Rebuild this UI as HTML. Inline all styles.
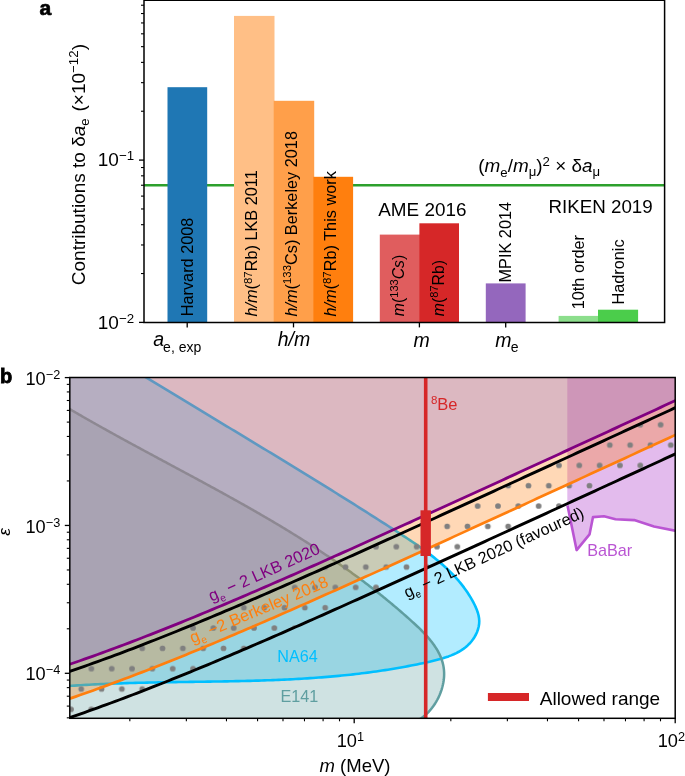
<!DOCTYPE html>
<html><head><meta charset="utf-8"><style>
html,body{margin:0;padding:0;background:#fff;}
svg{display:block;will-change:transform;}
text{font-family:"Liberation Sans",sans-serif;}
</style></head><body>
<svg width="685" height="776" viewBox="0 0 685 776">
<rect width="685" height="776" fill="#fff"/>
<line x1="144.0" x2="664.6" y1="185.2" y2="185.2" stroke="#2ca02c" stroke-width="2.5"/>
<rect x="167.5" y="87.2" width="39.7" height="235.2" fill="#1f77b4"/>
<rect x="234" y="15.9" width="40.5" height="306.5" fill="#ffbf86"/>
<rect x="273.7" y="100.8" width="40.5" height="221.6" fill="#ff9f4a"/>
<rect x="313.4" y="176.8" width="39.7" height="145.6" fill="#ff7f0e"/>
<rect x="379.8" y="234.6" width="40.4" height="87.8" fill="#e05d5e"/>
<rect x="419.4" y="223.3" width="39.6" height="99.1" fill="#d62728"/>
<rect x="485.8" y="283.4" width="39.8" height="39" fill="#9467bd"/>
<rect x="558.6" y="315.9" width="40.2" height="6.5" fill="#8cde8c"/>
<rect x="598" y="309.7" width="40.1" height="12.7" fill="#4bcd4b"/>
<text transform="translate(192.61,316.3) rotate(-90)" font-size="16.3" fill="#000"><tspan>Harvard 2008</tspan></text>
<text transform="translate(257.41,316.6) rotate(-90)" font-size="16.3" fill="#000"><tspan font-style="italic">h/m</tspan><tspan>(</tspan><tspan font-size="11.41" dy="-5.87">87</tspan><tspan dy="5.87">Rb) LKB 2011</tspan></text>
<text transform="translate(297.01,316.6) rotate(-90)" font-size="16.3" fill="#000"><tspan font-style="italic">h/m</tspan><tspan>(</tspan><tspan font-size="11.41" dy="-5.87">133</tspan><tspan dy="5.87">Cs) Berkeley 2018</tspan></text>
<text transform="translate(336.41,316.6) rotate(-90)" font-size="16.3" fill="#000"><tspan font-style="italic">h/m</tspan><tspan>(</tspan><tspan font-size="11.41" dy="-5.87">87</tspan><tspan dy="5.87">Rb) This work</tspan></text>
<text transform="translate(404.14,316.2) rotate(-90)" font-size="15.8" fill="#000"><tspan font-style="italic">m</tspan><tspan>(</tspan><tspan font-size="11.06" dy="-5.69">133</tspan><tspan font-style="italic" dy="5.69">Cs</tspan><tspan>)</tspan></text>
<text transform="translate(443.74,316.2) rotate(-90)" font-size="15.8" fill="#000"><tspan font-style="italic">m</tspan><tspan>(</tspan><tspan font-size="11.06" dy="-5.69">87</tspan><tspan dy="5.69">Rb)</tspan></text>
<text transform="translate(510.61,282.5) rotate(-90)" font-size="16.3" fill="#000"><tspan>MPIK 2014</tspan></text>
<text transform="translate(583.81,309.3) rotate(-90)" font-size="16.3" fill="#000"><tspan>10th order</tspan></text>
<text transform="translate(623.51,304.6) rotate(-90)" font-size="16.3" fill="#000"><tspan>Hadronic</tspan></text>
<text x="378.26" y="215.9" font-size="18.9" fill="#000" >AME 2016</text>
<text x="548.46" y="212.9" font-size="18.75" fill="#000" >RIKEN 2019</text>
<text x="478.3" y="171.6" font-size="18.9" fill="#000">(<tspan font-style="italic">m</tspan><tspan font-size="13.2" dy="5.5">e</tspan><tspan dy="-5.5">/</tspan><tspan font-style="italic">m</tspan><tspan font-size="13.2" dy="4.6">μ</tspan><tspan dy="-4.6">)</tspan><tspan font-size="13.2" dy="-6">2</tspan><tspan dy="6"> × δ</tspan><tspan font-style="italic">a</tspan><tspan font-size="13.2" dy="4.6">μ</tspan></text>
<path d="M144.0,322.4 V0.25 H664.6 V322.4 Z" fill="none" stroke="#000" stroke-width="1.5"/>
<line x1="139.0" x2="144.0" y1="322.4" y2="322.4" stroke="#000" stroke-width="1.3"/>
<line x1="141.0" x2="144.0" y1="273.54" y2="273.54" stroke="#000" stroke-width="1.1"/>
<line x1="141.0" x2="144.0" y1="244.96" y2="244.96" stroke="#000" stroke-width="1.1"/>
<line x1="141.0" x2="144.0" y1="224.69" y2="224.69" stroke="#000" stroke-width="1.1"/>
<line x1="141.0" x2="144.0" y1="208.96" y2="208.96" stroke="#000" stroke-width="1.1"/>
<line x1="141.0" x2="144.0" y1="196.11" y2="196.11" stroke="#000" stroke-width="1.1"/>
<line x1="141.0" x2="144.0" y1="185.24" y2="185.24" stroke="#000" stroke-width="1.1"/>
<line x1="141.0" x2="144.0" y1="175.83" y2="175.83" stroke="#000" stroke-width="1.1"/>
<line x1="141.0" x2="144.0" y1="167.53" y2="167.53" stroke="#000" stroke-width="1.1"/>
<line x1="139.0" x2="144.0" y1="160.1" y2="160.1" stroke="#000" stroke-width="1.3"/>
<line x1="141.0" x2="144.0" y1="111.24" y2="111.24" stroke="#000" stroke-width="1.1"/>
<line x1="141.0" x2="144.0" y1="82.66" y2="82.66" stroke="#000" stroke-width="1.1"/>
<line x1="141.0" x2="144.0" y1="62.39" y2="62.39" stroke="#000" stroke-width="1.1"/>
<line x1="141.0" x2="144.0" y1="46.66" y2="46.66" stroke="#000" stroke-width="1.1"/>
<line x1="141.0" x2="144.0" y1="33.81" y2="33.81" stroke="#000" stroke-width="1.1"/>
<line x1="141.0" x2="144.0" y1="22.94" y2="22.94" stroke="#000" stroke-width="1.1"/>
<line x1="141.0" x2="144.0" y1="13.53" y2="13.53" stroke="#000" stroke-width="1.1"/>
<line x1="141.0" x2="144.0" y1="5.23" y2="5.23" stroke="#000" stroke-width="1.1"/>
<text x="97.75" y="329" font-size="19">10<tspan font-size="13.3" dy="-6">−2</tspan></text>
<text x="97.75" y="166.2" font-size="19">10<tspan font-size="13.3" dy="-6">−1</tspan></text>
<line x1="187.2" x2="187.2" y1="322.4" y2="327.4" stroke="#000" stroke-width="1.3"/>
<line x1="293.5" x2="293.5" y1="322.4" y2="327.4" stroke="#000" stroke-width="1.3"/>
<line x1="419.4" x2="419.4" y1="322.4" y2="327.4" stroke="#000" stroke-width="1.3"/>
<line x1="505.7" x2="505.7" y1="322.4" y2="327.4" stroke="#000" stroke-width="1.3"/>
<text x="153.2" y="346" font-size="19.5" font-style="italic">a</text>
<text x="163.1" y="352.2" font-size="14">e, exp</text>
<text x="277.7" y="345.7" font-size="19.5" font-style="italic">h/m</text>
<text x="413.6" y="346.6" font-size="19.5" font-style="italic">m</text>
<text x="495.3" y="346.6" font-size="19.5" font-style="italic">m</text>
<text x="510.8" y="352.3" font-size="14">e</text>
<text transform="translate(84.5,285.2) rotate(-90)" font-size="19">Contributions to δ<tspan font-style="italic">a</tspan><tspan font-size="13.3" dy="4.3">e</tspan><tspan dy="-4.3" dx="1.5"> (×10</tspan><tspan font-size="13.3" dy="-7">−12</tspan><tspan dy="7">)</tspan></text>
<text x="39.6" y="14.6" font-size="21" font-weight="bold" stroke="#000" stroke-width="0.7">a</text>
<defs><clipPath id="cb"><rect x="69.8" y="377.5" width="605.4" height="340.8"/></clipPath>
<pattern id="dots" patternUnits="userSpaceOnUse" x="10.07" y="18.1" width="20.33" height="40.66"><circle cx="0" cy="0" r="2.85" fill="#808080"/><circle cx="20.33" cy="0" r="2.85" fill="#808080"/><circle cx="0" cy="40.66" r="2.85" fill="#808080"/><circle cx="20.33" cy="40.66" r="2.85" fill="#808080"/><circle cx="10.16" cy="20.33" r="2.85" fill="#808080"/></pattern>
</defs>
<g clip-path="url(#cb)">
<polygon points="66,374 140.13,373.77 142.63,375.3 145.13,376.82 147.63,378.34 150.12,379.86 152.61,381.38 155.1,382.9 157.59,384.41 160.08,385.93 162.57,387.44 165.05,388.95 167.54,390.46 170.02,391.96 172.5,393.47 174.98,394.97 177.46,396.47 179.93,397.97 182.41,399.47 184.88,400.97 187.36,402.46 189.83,403.96 192.3,405.45 194.77,406.95 197.24,408.44 199.71,409.93 202.17,411.42 204.64,412.91 207.1,414.4 209.57,415.88 212.03,417.37 214.49,418.86 216.95,420.34 219.41,421.83 221.87,423.31 224.33,424.8 226.78,426.28 229.24,427.76 231.69,429.25 234.15,430.73 236.6,432.21 239.06,433.69 241.51,435.18 243.96,436.66 246.41,438.14 248.86,439.62 251.31,441.1 253.76,442.59 256.21,444.07 258.65,445.55 261.1,447.04 263.55,448.52 265.99,450.01 268.44,451.49 270.89,452.98 273.33,454.46 275.77,455.95 278.22,457.44 280.66,458.93 283.11,460.42 285.55,461.91 287.99,463.4 290.43,464.89 292.88,466.38 295.32,467.88 297.76,469.37 300.2,470.87 302.64,472.37 305.09,473.87 307.53,475.37 309.97,476.87 312.41,478.37 314.85,479.88 317.29,481.39 319.73,482.89 322.17,484.41 324.61,485.92 327.06,487.43 329.5,488.95 331.94,490.46 334.38,491.98 336.82,493.51 339.26,495.03 341.71,496.55 344.15,498.08 346.59,499.61 349.03,501.15 351.48,502.68 353.92,504.22 356.37,505.76 358.81,507.3 361.25,508.84 363.7,510.39 366.15,511.94 368.59,513.49 371.04,515.05 373.49,516.61 375.93,518.17 378.38,519.73 380.83,521.3 383.28,522.87 385.73,524.44 388.18,526.02 390.63,527.6 393.08,529.18 395.54,530.77 397.99,532.36 400.44,533.95 402.89,535.55 405.34,537.16 407.79,538.77 410.22,540.39 412.65,542.02 415.07,543.67 417.48,545.32 419.87,546.99 422.25,548.68 424.61,550.38 426.96,552.11 429.28,553.85 431.58,555.61 433.86,557.39 436.11,559.2 438.34,561.03 440.54,562.88 442.7,564.77 444.84,566.68 446.94,568.62 449.01,570.59 451.03,572.6 453.02,574.63 454.97,576.71 456.88,578.82 458.74,580.96 460.56,583.15 462.33,585.37 464.06,587.64 465.73,589.95 467.35,592.3 468.91,594.7 470.42,597.14 471.87,599.63 473.26,602.17 474.59,604.76 475.83,607.4 476.93,610.07 477.86,612.78 478.58,615.51 479.06,618.26 479.26,621.03 479.14,623.8 478.72,626.55 478.03,629.27 477.1,631.93 475.94,634.5 474.58,636.97 473.05,639.31 471.38,641.5 469.57,643.54 467.63,645.44 465.58,647.2 463.41,648.84 461.14,650.35 458.78,651.76 456.32,653.06 453.79,654.26 451.18,655.37 448.5,656.4 445.77,657.35 442.99,658.24 440.16,659.07 437.3,659.84 434.41,660.58 431.51,661.27 428.59,661.94 425.66,662.58 422.74,663.21 419.82,663.83 416.9,664.43 413.98,665.01 411.07,665.58 408.15,666.14 405.24,666.69 402.34,667.22 399.43,667.73 396.53,668.24 393.62,668.73 390.72,669.21 387.82,669.67 384.93,670.13 382.03,670.57 379.14,671 376.25,671.42 373.36,671.82 370.47,672.22 367.58,672.6 364.7,672.97 361.81,673.33 358.93,673.68 356.05,674.02 353.17,674.35 350.3,674.67 347.42,674.98 344.54,675.28 341.67,675.57 338.8,675.85 335.92,676.12 333.05,676.38 330.18,676.63 327.32,676.88 324.45,677.11 321.58,677.34 318.72,677.56 315.85,677.77 312.99,677.97 310.13,678.17 307.26,678.35 304.4,678.53 301.54,678.71 298.68,678.87 295.82,679.03 292.96,679.19 290.11,679.34 287.25,679.48 284.39,679.61 281.54,679.74 278.68,679.86 275.82,679.98 272.97,680.09 270.11,680.2 267.26,680.3 264.4,680.4 261.55,680.49 258.69,680.58 255.84,680.67 252.99,680.75 250.13,680.83 247.28,680.9 244.42,680.97 241.57,681.04 238.72,681.1 235.86,681.16 233.01,681.22 230.15,681.27 227.3,681.33 224.44,681.38 221.59,681.43 218.73,681.47 215.87,681.52 213.02,681.56 210.16,681.61 207.3,681.65 204.44,681.69 201.58,681.73 198.72,681.77 195.86,681.81 193,681.85 190.14,681.89 187.28,681.93 184.41,681.97 181.55,682.01 178.68,682.05 175.82,682.09 172.95,682.14 170.08,682.18 167.21,682.23 164.34,682.28 161.47,682.33 158.6,682.38 155.73,682.43 152.85,682.49 149.97,682.55 147.1,682.61 144.22,682.68 141.34,682.74 138.45,682.82 135.57,682.89 132.69,682.97 129.8,683.05 126.91,683.14 124.02,683.23 121.13,683.33 118.24,683.43 115.34,683.53 112.45,683.64 109.55,683.76 106.65,683.88 103.75,684 100.84,684.13 97.94,684.27 95.03,684.41 92.12,684.56 89.21,684.72 86.29,684.88 83.38,685.05 80.46,685.23 77.54,685.41 74.62,685.6 71.69,685.8 68.76,686.01 65.83,686.22" fill="#00bfff" fill-opacity="0.3"/>
<polygon points="66.82,407.38 68.36,408.28 69.89,409.19 71.43,410.09 72.97,410.99 74.51,411.88 76.05,412.78 77.59,413.67 79.13,414.56 80.67,415.45 82.21,416.34 83.75,417.22 85.29,418.11 86.84,418.99 88.38,419.87 89.93,420.75 91.47,421.63 93.02,422.51 94.57,423.38 96.11,424.25 97.66,425.12 99.21,425.99 100.76,426.86 102.31,427.73 103.86,428.6 105.41,429.46 106.96,430.33 108.51,431.19 110.06,432.05 111.62,432.91 113.17,433.77 114.72,434.62 116.28,435.48 117.83,436.34 119.38,437.19 120.94,438.04 122.49,438.89 124.05,439.75 125.6,440.6 127.16,441.45 128.71,442.29 130.27,443.14 131.83,443.99 133.38,444.83 134.94,445.68 136.5,446.52 138.05,447.37 139.61,448.21 141.17,449.05 142.73,449.9 144.28,450.74 145.84,451.58 147.4,452.42 148.96,453.26 150.52,454.1 152.07,454.94 153.63,455.77 155.19,456.61 156.75,457.45 158.31,458.29 159.86,459.12 161.42,459.96 162.98,460.8 164.54,461.63 166.1,462.47 167.65,463.31 169.21,464.14 170.77,464.98 172.33,465.81 173.88,466.65 175.44,467.48 177,468.32 178.55,469.16 180.11,469.99 181.67,470.83 183.22,471.66 184.78,472.5 186.33,473.34 187.89,474.17 189.44,475.01 191,475.85 192.55,476.69 194.11,477.52 195.66,478.36 197.21,479.2 198.76,480.04 200.32,480.88 201.87,481.72 203.42,482.56 204.97,483.4 206.52,484.25 208.07,485.09 209.62,485.93 211.17,486.78 212.72,487.62 214.27,488.47 215.81,489.31 217.36,490.16 218.91,491.01 220.45,491.86 222,492.71 223.54,493.56 225.09,494.41 226.63,495.26 228.17,496.11 229.72,496.97 231.26,497.82 232.8,498.68 234.34,499.54 235.88,500.4 237.41,501.26 238.95,502.12 240.49,502.98 242.03,503.85 243.56,504.71 245.09,505.58 246.63,506.45 248.16,507.31 249.69,508.19 251.22,509.06 252.75,509.93 254.28,510.81 255.81,511.68 257.34,512.56 258.87,513.44 260.39,514.32 261.92,515.21 263.44,516.09 264.96,516.98 266.48,517.87 268,518.76 269.52,519.65 271.04,520.54 272.56,521.44 274.07,522.33 275.59,523.23 277.1,524.14 278.62,525.04 280.13,525.94 281.64,526.85 283.15,527.76 284.66,528.67 286.16,529.59 287.67,530.5 289.17,531.42 290.68,532.34 292.18,533.26 293.68,534.19 295.18,535.11 296.68,536.04 298.17,536.98 299.67,537.91 301.16,538.85 302.66,539.79 304.15,540.73 305.64,541.67 307.13,542.62 308.61,543.57 310.1,544.52 311.58,545.47 313.06,546.43 314.55,547.39 316.03,548.35 317.5,549.32 318.98,550.29 320.46,551.26 321.93,552.23 323.4,553.21 324.87,554.19 326.34,555.17 327.81,556.15 329.27,557.14 330.74,558.13 332.2,559.13 333.66,560.13 335.12,561.13 336.58,562.13 338.03,563.14 339.49,564.15 340.94,565.16 342.39,566.18 343.84,567.2 345.29,568.22 346.73,569.25 348.17,570.28 349.62,571.31 351.06,572.35 352.49,573.39 353.93,574.43 355.36,575.48 356.8,576.53 358.23,577.58 359.65,578.64 361.08,579.7 362.51,580.77 363.93,581.83 365.35,582.91 366.77,583.98 368.18,585.06 369.6,586.15 371.01,587.23 372.42,588.33 373.83,589.42 375.24,590.52 376.64,591.62 378.04,592.73 379.44,593.84 380.84,594.96 382.23,596.08 383.63,597.2 385.02,598.33 386.41,599.46 387.79,600.6 389.18,601.74 390.56,602.88 391.94,604.03 393.32,605.18 394.7,606.34 396.07,607.5 397.44,608.67 398.81,609.84 400.17,611.02 401.54,612.2 402.9,613.38 404.26,614.57 405.62,615.76 406.97,616.96 408.32,618.16 409.67,619.37 411.02,620.58 412.36,621.8 413.7,623.02 415.03,624.25 416.35,625.48 417.67,626.72 418.97,627.97 420.25,629.23 421.52,630.49 422.78,631.76 424.01,633.04 425.23,634.33 426.42,635.63 427.59,636.94 428.73,638.26 429.85,639.59 430.94,640.93 431.99,642.29 433.02,643.65 434.01,645.03 434.96,646.42 435.88,647.82 436.76,649.24 437.6,650.67 438.39,652.12 439.15,653.58 439.85,655.05 440.51,656.54 441.12,658.05 441.68,659.58 442.18,661.12 442.63,662.68 443.03,664.26 443.37,665.85 443.65,667.46 443.87,669.1 444.02,670.75 444.11,672.42 444.14,674.11 444.1,675.82 443.99,677.55 443.82,679.28 443.59,681.03 443.3,682.78 442.95,684.54 442.54,686.29 442.06,688.04 441.53,689.79 440.94,691.53 440.3,693.26 439.6,694.97 438.84,696.66 438.04,698.34 437.17,699.99 436.26,701.62 435.29,703.22 434.28,704.79 433.22,706.32 432.1,707.81 430.94,709.27 429.73,710.68 428.48,712.04 427.18,713.36 425.84,714.62 424.46,715.83 423.03,716.98 421.56,718.07 420.05,719.1 418.5,720.06 416.91,720.95 415.29,721.77 416,722 66,722 66,407" fill="#5f9ea0" fill-opacity="0.3"/>
<polygon points="567.3,374 678,374 678,531.2 654,526.5 634.2,520.1 615.5,519.3 604,516.3 593,517.1 589.5,534.4 576.6,550.1 567.5,505.5 567.3,505.5" fill="#ba55d3" fill-opacity="0.4"/>
<polyline points="140.13,373.77 142.63,375.3 145.13,376.82 147.63,378.34 150.12,379.86 152.61,381.38 155.1,382.9 157.59,384.41 160.08,385.93 162.57,387.44 165.05,388.95 167.54,390.46 170.02,391.96 172.5,393.47 174.98,394.97 177.46,396.47 179.93,397.97 182.41,399.47 184.88,400.97 187.36,402.46 189.83,403.96 192.3,405.45 194.77,406.95 197.24,408.44 199.71,409.93 202.17,411.42 204.64,412.91 207.1,414.4 209.57,415.88 212.03,417.37 214.49,418.86 216.95,420.34 219.41,421.83 221.87,423.31 224.33,424.8 226.78,426.28 229.24,427.76 231.69,429.25 234.15,430.73 236.6,432.21 239.06,433.69 241.51,435.18 243.96,436.66 246.41,438.14 248.86,439.62 251.31,441.1 253.76,442.59 256.21,444.07 258.65,445.55 261.1,447.04 263.55,448.52 265.99,450.01 268.44,451.49 270.89,452.98 273.33,454.46 275.77,455.95 278.22,457.44 280.66,458.93 283.11,460.42 285.55,461.91 287.99,463.4 290.43,464.89 292.88,466.38 295.32,467.88 297.76,469.37 300.2,470.87 302.64,472.37 305.09,473.87 307.53,475.37 309.97,476.87 312.41,478.37 314.85,479.88 317.29,481.39 319.73,482.89 322.17,484.41 324.61,485.92 327.06,487.43 329.5,488.95 331.94,490.46 334.38,491.98 336.82,493.51 339.26,495.03 341.71,496.55 344.15,498.08 346.59,499.61 349.03,501.15 351.48,502.68 353.92,504.22 356.37,505.76 358.81,507.3 361.25,508.84 363.7,510.39 366.15,511.94 368.59,513.49 371.04,515.05 373.49,516.61 375.93,518.17 378.38,519.73 380.83,521.3 383.28,522.87 385.73,524.44 388.18,526.02 390.63,527.6 393.08,529.18 395.54,530.77 397.99,532.36 400.44,533.95 402.89,535.55 405.34,537.16 407.79,538.77 410.22,540.39 412.65,542.02 415.07,543.67 417.48,545.32 419.87,546.99 422.25,548.68 424.61,550.38 426.96,552.11 429.28,553.85 431.58,555.61 433.86,557.39 436.11,559.2 438.34,561.03 440.54,562.88 442.7,564.77 444.84,566.68 446.94,568.62 449.01,570.59 451.03,572.6 453.02,574.63 454.97,576.71 456.88,578.82 458.74,580.96 460.56,583.15 462.33,585.37 464.06,587.64 465.73,589.95 467.35,592.3 468.91,594.7 470.42,597.14 471.87,599.63 473.26,602.17 474.59,604.76 475.83,607.4 476.93,610.07 477.86,612.78 478.58,615.51 479.06,618.26 479.26,621.03 479.14,623.8 478.72,626.55 478.03,629.27 477.1,631.93 475.94,634.5 474.58,636.97 473.05,639.31 471.38,641.5 469.57,643.54 467.63,645.44 465.58,647.2 463.41,648.84 461.14,650.35 458.78,651.76 456.32,653.06 453.79,654.26 451.18,655.37 448.5,656.4 445.77,657.35 442.99,658.24 440.16,659.07 437.3,659.84 434.41,660.58 431.51,661.27 428.59,661.94 425.66,662.58 422.74,663.21 419.82,663.83 416.9,664.43 413.98,665.01 411.07,665.58 408.15,666.14 405.24,666.69 402.34,667.22 399.43,667.73 396.53,668.24 393.62,668.73 390.72,669.21 387.82,669.67 384.93,670.13 382.03,670.57 379.14,671 376.25,671.42 373.36,671.82 370.47,672.22 367.58,672.6 364.7,672.97 361.81,673.33 358.93,673.68 356.05,674.02 353.17,674.35 350.3,674.67 347.42,674.98 344.54,675.28 341.67,675.57 338.8,675.85 335.92,676.12 333.05,676.38 330.18,676.63 327.32,676.88 324.45,677.11 321.58,677.34 318.72,677.56 315.85,677.77 312.99,677.97 310.13,678.17 307.26,678.35 304.4,678.53 301.54,678.71 298.68,678.87 295.82,679.03 292.96,679.19 290.11,679.34 287.25,679.48 284.39,679.61 281.54,679.74 278.68,679.86 275.82,679.98 272.97,680.09 270.11,680.2 267.26,680.3 264.4,680.4 261.55,680.49 258.69,680.58 255.84,680.67 252.99,680.75 250.13,680.83 247.28,680.9 244.42,680.97 241.57,681.04 238.72,681.1 235.86,681.16 233.01,681.22 230.15,681.27 227.3,681.33 224.44,681.38 221.59,681.43 218.73,681.47 215.87,681.52 213.02,681.56 210.16,681.61 207.3,681.65 204.44,681.69 201.58,681.73 198.72,681.77 195.86,681.81 193,681.85 190.14,681.89 187.28,681.93 184.41,681.97 181.55,682.01 178.68,682.05 175.82,682.09 172.95,682.14 170.08,682.18 167.21,682.23 164.34,682.28 161.47,682.33 158.6,682.38 155.73,682.43 152.85,682.49 149.97,682.55 147.1,682.61 144.22,682.68 141.34,682.74 138.45,682.82 135.57,682.89 132.69,682.97 129.8,683.05 126.91,683.14 124.02,683.23 121.13,683.33 118.24,683.43 115.34,683.53 112.45,683.64 109.55,683.76 106.65,683.88 103.75,684 100.84,684.13 97.94,684.27 95.03,684.41 92.12,684.56 89.21,684.72 86.29,684.88 83.38,685.05 80.46,685.23 77.54,685.41 74.62,685.6 71.69,685.8 68.76,686.01 65.83,686.22" fill="none" stroke="#00bfff" stroke-width="2.6" stroke-linejoin="round"/>
<polyline points="66.82,407.38 68.36,408.28 69.89,409.19 71.43,410.09 72.97,410.99 74.51,411.88 76.05,412.78 77.59,413.67 79.13,414.56 80.67,415.45 82.21,416.34 83.75,417.22 85.29,418.11 86.84,418.99 88.38,419.87 89.93,420.75 91.47,421.63 93.02,422.51 94.57,423.38 96.11,424.25 97.66,425.12 99.21,425.99 100.76,426.86 102.31,427.73 103.86,428.6 105.41,429.46 106.96,430.33 108.51,431.19 110.06,432.05 111.62,432.91 113.17,433.77 114.72,434.62 116.28,435.48 117.83,436.34 119.38,437.19 120.94,438.04 122.49,438.89 124.05,439.75 125.6,440.6 127.16,441.45 128.71,442.29 130.27,443.14 131.83,443.99 133.38,444.83 134.94,445.68 136.5,446.52 138.05,447.37 139.61,448.21 141.17,449.05 142.73,449.9 144.28,450.74 145.84,451.58 147.4,452.42 148.96,453.26 150.52,454.1 152.07,454.94 153.63,455.77 155.19,456.61 156.75,457.45 158.31,458.29 159.86,459.12 161.42,459.96 162.98,460.8 164.54,461.63 166.1,462.47 167.65,463.31 169.21,464.14 170.77,464.98 172.33,465.81 173.88,466.65 175.44,467.48 177,468.32 178.55,469.16 180.11,469.99 181.67,470.83 183.22,471.66 184.78,472.5 186.33,473.34 187.89,474.17 189.44,475.01 191,475.85 192.55,476.69 194.11,477.52 195.66,478.36 197.21,479.2 198.76,480.04 200.32,480.88 201.87,481.72 203.42,482.56 204.97,483.4 206.52,484.25 208.07,485.09 209.62,485.93 211.17,486.78 212.72,487.62 214.27,488.47 215.81,489.31 217.36,490.16 218.91,491.01 220.45,491.86 222,492.71 223.54,493.56 225.09,494.41 226.63,495.26 228.17,496.11 229.72,496.97 231.26,497.82 232.8,498.68 234.34,499.54 235.88,500.4 237.41,501.26 238.95,502.12 240.49,502.98 242.03,503.85 243.56,504.71 245.09,505.58 246.63,506.45 248.16,507.31 249.69,508.19 251.22,509.06 252.75,509.93 254.28,510.81 255.81,511.68 257.34,512.56 258.87,513.44 260.39,514.32 261.92,515.21 263.44,516.09 264.96,516.98 266.48,517.87 268,518.76 269.52,519.65 271.04,520.54 272.56,521.44 274.07,522.33 275.59,523.23 277.1,524.14 278.62,525.04 280.13,525.94 281.64,526.85 283.15,527.76 284.66,528.67 286.16,529.59 287.67,530.5 289.17,531.42 290.68,532.34 292.18,533.26 293.68,534.19 295.18,535.11 296.68,536.04 298.17,536.98 299.67,537.91 301.16,538.85 302.66,539.79 304.15,540.73 305.64,541.67 307.13,542.62 308.61,543.57 310.1,544.52 311.58,545.47 313.06,546.43 314.55,547.39 316.03,548.35 317.5,549.32 318.98,550.29 320.46,551.26 321.93,552.23 323.4,553.21 324.87,554.19 326.34,555.17 327.81,556.15 329.27,557.14 330.74,558.13 332.2,559.13 333.66,560.13 335.12,561.13 336.58,562.13 338.03,563.14 339.49,564.15 340.94,565.16 342.39,566.18 343.84,567.2 345.29,568.22 346.73,569.25 348.17,570.28 349.62,571.31 351.06,572.35 352.49,573.39 353.93,574.43 355.36,575.48 356.8,576.53 358.23,577.58 359.65,578.64 361.08,579.7 362.51,580.77 363.93,581.83 365.35,582.91 366.77,583.98 368.18,585.06 369.6,586.15 371.01,587.23 372.42,588.33 373.83,589.42 375.24,590.52 376.64,591.62 378.04,592.73 379.44,593.84 380.84,594.96 382.23,596.08 383.63,597.2 385.02,598.33 386.41,599.46 387.79,600.6 389.18,601.74 390.56,602.88 391.94,604.03 393.32,605.18 394.7,606.34 396.07,607.5 397.44,608.67 398.81,609.84 400.17,611.02 401.54,612.2 402.9,613.38 404.26,614.57 405.62,615.76 406.97,616.96 408.32,618.16 409.67,619.37 411.02,620.58 412.36,621.8 413.7,623.02 415.03,624.25 416.35,625.48 417.67,626.72 418.97,627.97 420.25,629.23 421.52,630.49 422.78,631.76 424.01,633.04 425.23,634.33 426.42,635.63 427.59,636.94 428.73,638.26 429.85,639.59 430.94,640.93 431.99,642.29 433.02,643.65 434.01,645.03 434.96,646.42 435.88,647.82 436.76,649.24 437.6,650.67 438.39,652.12 439.15,653.58 439.85,655.05 440.51,656.54 441.12,658.05 441.68,659.58 442.18,661.12 442.63,662.68 443.03,664.26 443.37,665.85 443.65,667.46 443.87,669.1 444.02,670.75 444.11,672.42 444.14,674.11 444.1,675.82 443.99,677.55 443.82,679.28 443.59,681.03 443.3,682.78 442.95,684.54 442.54,686.29 442.06,688.04 441.53,689.79 440.94,691.53 440.3,693.26 439.6,694.97 438.84,696.66 438.04,698.34 437.17,699.99 436.26,701.62 435.29,703.22 434.28,704.79 433.22,706.32 432.1,707.81 430.94,709.27 429.73,710.68 428.48,712.04 427.18,713.36 425.84,714.62 424.46,715.83 423.03,716.98 421.56,718.07 420.05,719.1 418.5,720.06 416.91,720.95 415.29,721.77" fill="none" stroke="#5f9ea0" stroke-width="2.5" stroke-linejoin="round"/>
<polyline points="567.5,505.5 576.6,550.1 589.5,534.4 593,517.1 604,516.3 615.5,519.3 634.2,520.1 654,526.5 678,531.2" fill="none" stroke="#ba55d3" stroke-width="2.6" stroke-linejoin="round"/>
<polygon points="66.8,699.62 71.2,698.11 75.6,696.6 80,695.07 84.39,693.53 88.79,691.97 93.19,690.4 97.59,688.82 101.99,687.23 106.39,685.62 110.79,684.01 115.18,682.38 119.58,680.74 123.98,679.08 128.38,677.42 132.78,675.75 137.18,674.06 141.58,672.37 145.97,670.66 150.37,668.94 154.77,667.22 159.17,665.48 163.57,663.74 167.97,661.98 172.37,660.22 176.76,658.45 181.16,656.66 185.56,654.88 189.96,653.08 194.36,651.27 198.76,649.46 203.16,647.64 207.55,645.81 211.95,643.98 216.35,642.13 220.75,640.28 225.15,638.43 229.55,636.57 233.95,634.7 238.34,632.83 242.74,630.95 247.14,629.06 251.54,627.17 255.94,625.27 260.34,623.37 264.74,621.47 269.13,619.56 273.53,617.64 277.93,615.72 282.33,613.8 286.73,611.87 291.13,609.94 295.53,608 299.92,606.06 304.32,604.12 308.72,602.17 313.12,600.22 317.52,598.27 321.92,596.31 326.32,594.35 330.71,592.39 335.11,590.42 339.51,588.45 343.91,586.48 348.31,584.51 352.71,582.54 357.11,580.56 361.5,578.58 365.9,576.6 370.3,574.61 374.7,572.63 379.1,570.64 383.5,568.65 387.89,566.66 392.29,564.67 396.69,562.68 401.09,560.68 405.49,558.68 409.89,556.68 414.29,554.69 418.68,552.68 423.08,550.68 427.48,548.68 431.88,546.68 436.28,544.67 440.68,542.66 445.08,540.66 449.47,538.65 453.87,536.64 458.27,534.63 462.67,532.62 467.07,530.61 471.47,528.6 475.87,526.58 480.26,524.57 484.66,522.56 489.06,520.54 493.46,518.53 497.86,516.51 502.26,514.5 506.66,512.48 511.05,510.46 515.45,508.44 519.85,506.43 524.25,504.41 528.65,502.39 533.05,500.37 537.45,498.35 541.84,496.33 546.24,494.31 550.64,492.29 555.04,490.27 559.44,488.25 563.84,486.23 568.24,484.21 572.63,482.18 577.03,480.16 581.43,478.14 585.83,476.12 590.23,474.1 594.63,472.07 599.03,470.05 603.42,468.03 607.82,466 612.22,463.98 616.62,461.96 621.02,459.93 625.42,457.91 629.82,455.89 634.21,453.86 638.61,451.84 643.01,449.81 647.41,447.79 651.81,445.77 656.21,443.74 660.61,441.72 665,439.69 669.4,437.67 673.8,435.64 678.2,433.62 678.2,370 66.8,370" fill="#ff7f0e" fill-opacity="0.3"/>
<polygon points="66.8,665.28 71.2,663.78 75.6,662.26 80,660.73 84.39,659.19 88.79,657.63 93.19,656.06 97.59,654.48 101.99,652.89 106.39,651.29 110.79,649.67 115.18,648.04 119.58,646.4 123.98,644.75 128.38,643.08 132.78,641.41 137.18,639.72 141.58,638.03 145.97,636.32 150.37,634.6 154.77,632.88 159.17,631.14 163.57,629.4 167.97,627.64 172.37,625.88 176.76,624.11 181.16,622.33 185.56,620.54 189.96,618.74 194.36,616.93 198.76,615.12 203.16,613.3 207.55,611.47 211.95,609.64 216.35,607.8 220.75,605.95 225.15,604.09 229.55,602.23 233.95,600.36 238.34,598.49 242.74,596.61 247.14,594.72 251.54,592.83 255.94,590.94 260.34,589.03 264.74,587.13 269.13,585.22 273.53,583.3 277.93,581.38 282.33,579.46 286.73,577.53 291.13,575.6 295.53,573.66 299.92,571.72 304.32,569.78 308.72,567.83 313.12,565.88 317.52,563.93 321.92,561.97 326.32,560.01 330.71,558.05 335.11,556.08 339.51,554.12 343.91,552.15 348.31,550.17 352.71,548.2 357.11,546.22 361.5,544.24 365.9,542.26 370.3,540.28 374.7,538.29 379.1,536.3 383.5,534.31 387.89,532.32 392.29,530.33 396.69,528.34 401.09,526.34 405.49,524.34 409.89,522.35 414.29,520.35 418.68,518.35 423.08,516.34 427.48,514.34 431.88,512.34 436.28,510.33 440.68,508.33 445.08,506.32 449.47,504.31 453.87,502.3 458.27,500.29 462.67,498.28 467.07,496.27 471.47,494.26 475.87,492.25 480.26,490.23 484.66,488.22 489.06,486.2 493.46,484.19 497.86,482.17 502.26,480.16 506.66,478.14 511.05,476.12 515.45,474.11 519.85,472.09 524.25,470.07 528.65,468.05 533.05,466.03 537.45,464.01 541.84,461.99 546.24,459.97 550.64,457.95 555.04,455.93 559.44,453.91 563.84,451.89 568.24,449.87 572.63,447.85 577.03,445.82 581.43,443.8 585.83,441.78 590.23,439.76 594.63,437.73 599.03,435.71 603.42,433.69 607.82,431.67 612.22,429.64 616.62,427.62 621.02,425.6 625.42,423.57 629.82,421.55 634.21,419.52 638.61,417.5 643.01,415.48 647.41,413.45 651.81,411.43 656.21,409.4 660.61,407.38 665,405.35 669.4,403.33 673.8,401.3 678.2,399.28 678.2,370 66.8,370" fill="#8c6eda" fill-opacity="0.3"/>
<polygon points="66.8,672.4 71.2,670.89 75.6,669.38 80,667.85 84.39,666.31 88.79,664.75 93.19,663.18 97.59,661.6 101.99,660.01 106.39,658.4 110.79,656.79 115.18,655.16 119.58,653.52 123.98,651.86 128.38,650.2 132.78,648.53 137.18,646.84 141.58,645.15 145.97,643.44 150.37,641.72 154.77,640 159.17,638.26 163.57,636.52 167.97,634.76 172.37,633 176.76,631.23 181.16,629.45 185.56,627.66 189.96,625.86 194.36,624.05 198.76,622.24 203.16,620.42 207.55,618.59 211.95,616.76 216.35,614.91 220.75,613.07 225.15,611.21 229.55,609.35 233.95,607.48 238.34,605.61 242.74,603.73 247.14,601.84 251.54,599.95 255.94,598.05 260.34,596.15 264.74,594.25 269.13,592.34 273.53,590.42 277.93,588.5 282.33,586.58 286.73,584.65 291.13,582.72 295.53,580.78 299.92,578.84 304.32,576.9 308.72,574.95 313.12,573 317.52,571.05 321.92,569.09 326.32,567.13 330.71,565.17 335.11,563.2 339.51,561.24 343.91,559.27 348.31,557.29 352.71,555.32 357.11,553.34 361.5,551.36 365.9,549.38 370.3,547.4 374.7,545.41 379.1,543.42 383.5,541.43 387.89,539.44 392.29,537.45 396.69,535.46 401.09,533.46 405.49,531.46 409.89,529.47 414.29,527.47 418.68,525.47 423.08,523.46 427.48,521.46 431.88,519.46 436.28,517.45 440.68,515.44 445.08,513.44 449.47,511.43 453.87,509.42 458.27,507.41 462.67,505.4 467.07,503.39 471.47,501.38 475.87,499.36 480.26,497.35 484.66,495.34 489.06,493.32 493.46,491.31 497.86,489.29 502.26,487.28 506.66,485.26 511.05,483.24 515.45,481.22 519.85,479.21 524.25,477.19 528.65,475.17 533.05,473.15 537.45,471.13 541.84,469.11 546.24,467.09 550.64,465.07 555.04,463.05 559.44,461.03 563.84,459.01 568.24,456.99 572.63,454.96 577.03,452.94 581.43,450.92 585.83,448.9 590.23,446.88 594.63,444.85 599.03,442.83 603.42,440.81 607.82,438.78 612.22,436.76 616.62,434.74 621.02,432.71 625.42,430.69 629.82,428.67 634.21,426.64 638.61,424.62 643.01,422.59 647.41,420.57 651.81,418.55 656.21,416.52 660.61,414.5 665,412.47 669.4,410.45 673.8,408.42 678.2,406.4 678.2,452.62 673.8,454.64 669.4,456.67 665,458.69 660.61,460.72 656.21,462.74 651.81,464.76 647.41,466.79 643.01,468.81 638.61,470.84 634.21,472.86 629.82,474.88 625.42,476.91 621.02,478.93 616.62,480.96 612.22,482.98 607.82,485 603.42,487.03 599.03,489.05 594.63,491.07 590.23,493.09 585.83,495.12 581.43,497.14 577.03,499.16 572.63,501.18 568.24,503.2 563.84,505.23 559.44,507.25 555.04,509.27 550.64,511.29 546.24,513.31 541.84,515.33 537.45,517.35 533.05,519.37 528.65,521.39 524.25,523.41 519.85,525.42 515.45,527.44 511.05,529.46 506.66,531.48 502.26,533.49 497.86,535.51 493.46,537.53 489.06,539.54 484.66,541.56 480.26,543.57 475.87,545.58 471.47,547.6 467.07,549.61 462.67,551.62 458.27,553.63 453.87,555.64 449.47,557.65 445.08,559.66 440.68,561.66 436.28,563.67 431.88,565.67 427.48,567.68 423.08,569.68 418.68,571.68 414.29,573.68 409.89,575.68 405.49,577.68 401.09,579.68 396.69,581.67 392.29,583.67 387.89,585.66 383.5,587.65 379.1,589.64 374.7,591.63 370.3,593.61 365.9,595.6 361.5,597.58 357.11,599.56 352.71,601.54 348.31,603.51 343.91,605.48 339.51,607.45 335.11,609.42 330.71,611.39 326.32,613.35 321.92,615.31 317.52,617.26 313.12,619.22 308.72,621.17 304.32,623.12 299.92,625.06 295.53,627 291.13,628.93 286.73,630.87 282.33,632.8 277.93,634.72 273.53,636.64 269.13,638.55 264.74,640.47 260.34,642.37 255.94,644.27 251.54,646.17 247.14,648.06 242.74,649.94 238.34,651.82 233.95,653.7 229.55,655.57 225.15,657.43 220.75,659.28 216.35,661.13 211.95,662.97 207.55,664.81 203.16,666.64 198.76,668.46 194.36,670.27 189.96,672.08 185.56,673.87 181.16,675.66 176.76,677.44 172.37,679.22 167.97,680.98 163.57,682.73 159.17,684.48 154.77,686.22 150.37,687.94 145.97,689.66 141.58,691.36 137.18,693.06 132.78,694.74 128.38,696.42 123.98,698.08 119.58,699.74 115.18,701.38 110.79,703.01 106.39,704.62 101.99,706.23 97.59,707.82 93.19,709.4 88.79,710.97 84.39,712.53 80,714.07 75.6,715.6 71.2,717.11 66.8,718.61" fill="url(#dots)"/>
<polyline points="66.8,665.28 71.2,663.78 75.6,662.26 80,660.73 84.39,659.19 88.79,657.63 93.19,656.06 97.59,654.48 101.99,652.89 106.39,651.29 110.79,649.67 115.18,648.04 119.58,646.4 123.98,644.75 128.38,643.08 132.78,641.41 137.18,639.72 141.58,638.03 145.97,636.32 150.37,634.6 154.77,632.88 159.17,631.14 163.57,629.4 167.97,627.64 172.37,625.88 176.76,624.11 181.16,622.33 185.56,620.54 189.96,618.74 194.36,616.93 198.76,615.12 203.16,613.3 207.55,611.47 211.95,609.64 216.35,607.8 220.75,605.95 225.15,604.09 229.55,602.23 233.95,600.36 238.34,598.49 242.74,596.61 247.14,594.72 251.54,592.83 255.94,590.94 260.34,589.03 264.74,587.13 269.13,585.22 273.53,583.3 277.93,581.38 282.33,579.46 286.73,577.53 291.13,575.6 295.53,573.66 299.92,571.72 304.32,569.78 308.72,567.83 313.12,565.88 317.52,563.93 321.92,561.97 326.32,560.01 330.71,558.05 335.11,556.08 339.51,554.12 343.91,552.15 348.31,550.17 352.71,548.2 357.11,546.22 361.5,544.24 365.9,542.26 370.3,540.28 374.7,538.29 379.1,536.3 383.5,534.31 387.89,532.32 392.29,530.33 396.69,528.34 401.09,526.34 405.49,524.34 409.89,522.35 414.29,520.35 418.68,518.35 423.08,516.34 427.48,514.34 431.88,512.34 436.28,510.33 440.68,508.33 445.08,506.32 449.47,504.31 453.87,502.3 458.27,500.29 462.67,498.28 467.07,496.27 471.47,494.26 475.87,492.25 480.26,490.23 484.66,488.22 489.06,486.2 493.46,484.19 497.86,482.17 502.26,480.16 506.66,478.14 511.05,476.12 515.45,474.11 519.85,472.09 524.25,470.07 528.65,468.05 533.05,466.03 537.45,464.01 541.84,461.99 546.24,459.97 550.64,457.95 555.04,455.93 559.44,453.91 563.84,451.89 568.24,449.87 572.63,447.85 577.03,445.82 581.43,443.8 585.83,441.78 590.23,439.76 594.63,437.73 599.03,435.71 603.42,433.69 607.82,431.67 612.22,429.64 616.62,427.62 621.02,425.6 625.42,423.57 629.82,421.55 634.21,419.52 638.61,417.5 643.01,415.48 647.41,413.45 651.81,411.43 656.21,409.4 660.61,407.38 665,405.35 669.4,403.33 673.8,401.3 678.2,399.28" fill="none" stroke="#800080" stroke-width="2.8"/>
<polyline points="66.8,672.4 71.2,670.89 75.6,669.38 80,667.85 84.39,666.31 88.79,664.75 93.19,663.18 97.59,661.6 101.99,660.01 106.39,658.4 110.79,656.79 115.18,655.16 119.58,653.52 123.98,651.86 128.38,650.2 132.78,648.53 137.18,646.84 141.58,645.15 145.97,643.44 150.37,641.72 154.77,640 159.17,638.26 163.57,636.52 167.97,634.76 172.37,633 176.76,631.23 181.16,629.45 185.56,627.66 189.96,625.86 194.36,624.05 198.76,622.24 203.16,620.42 207.55,618.59 211.95,616.76 216.35,614.91 220.75,613.07 225.15,611.21 229.55,609.35 233.95,607.48 238.34,605.61 242.74,603.73 247.14,601.84 251.54,599.95 255.94,598.05 260.34,596.15 264.74,594.25 269.13,592.34 273.53,590.42 277.93,588.5 282.33,586.58 286.73,584.65 291.13,582.72 295.53,580.78 299.92,578.84 304.32,576.9 308.72,574.95 313.12,573 317.52,571.05 321.92,569.09 326.32,567.13 330.71,565.17 335.11,563.2 339.51,561.24 343.91,559.27 348.31,557.29 352.71,555.32 357.11,553.34 361.5,551.36 365.9,549.38 370.3,547.4 374.7,545.41 379.1,543.42 383.5,541.43 387.89,539.44 392.29,537.45 396.69,535.46 401.09,533.46 405.49,531.46 409.89,529.47 414.29,527.47 418.68,525.47 423.08,523.46 427.48,521.46 431.88,519.46 436.28,517.45 440.68,515.44 445.08,513.44 449.47,511.43 453.87,509.42 458.27,507.41 462.67,505.4 467.07,503.39 471.47,501.38 475.87,499.36 480.26,497.35 484.66,495.34 489.06,493.32 493.46,491.31 497.86,489.29 502.26,487.28 506.66,485.26 511.05,483.24 515.45,481.22 519.85,479.21 524.25,477.19 528.65,475.17 533.05,473.15 537.45,471.13 541.84,469.11 546.24,467.09 550.64,465.07 555.04,463.05 559.44,461.03 563.84,459.01 568.24,456.99 572.63,454.96 577.03,452.94 581.43,450.92 585.83,448.9 590.23,446.88 594.63,444.85 599.03,442.83 603.42,440.81 607.82,438.78 612.22,436.76 616.62,434.74 621.02,432.71 625.42,430.69 629.82,428.67 634.21,426.64 638.61,424.62 643.01,422.59 647.41,420.57 651.81,418.55 656.21,416.52 660.61,414.5 665,412.47 669.4,410.45 673.8,408.42 678.2,406.4" fill="none" stroke="#000" stroke-width="2.9"/>
<polyline points="66.8,699.62 71.2,698.11 75.6,696.6 80,695.07 84.39,693.53 88.79,691.97 93.19,690.4 97.59,688.82 101.99,687.23 106.39,685.62 110.79,684.01 115.18,682.38 119.58,680.74 123.98,679.08 128.38,677.42 132.78,675.75 137.18,674.06 141.58,672.37 145.97,670.66 150.37,668.94 154.77,667.22 159.17,665.48 163.57,663.74 167.97,661.98 172.37,660.22 176.76,658.45 181.16,656.66 185.56,654.88 189.96,653.08 194.36,651.27 198.76,649.46 203.16,647.64 207.55,645.81 211.95,643.98 216.35,642.13 220.75,640.28 225.15,638.43 229.55,636.57 233.95,634.7 238.34,632.83 242.74,630.95 247.14,629.06 251.54,627.17 255.94,625.27 260.34,623.37 264.74,621.47 269.13,619.56 273.53,617.64 277.93,615.72 282.33,613.8 286.73,611.87 291.13,609.94 295.53,608 299.92,606.06 304.32,604.12 308.72,602.17 313.12,600.22 317.52,598.27 321.92,596.31 326.32,594.35 330.71,592.39 335.11,590.42 339.51,588.45 343.91,586.48 348.31,584.51 352.71,582.54 357.11,580.56 361.5,578.58 365.9,576.6 370.3,574.61 374.7,572.63 379.1,570.64 383.5,568.65 387.89,566.66 392.29,564.67 396.69,562.68 401.09,560.68 405.49,558.68 409.89,556.68 414.29,554.69 418.68,552.68 423.08,550.68 427.48,548.68 431.88,546.68 436.28,544.67 440.68,542.66 445.08,540.66 449.47,538.65 453.87,536.64 458.27,534.63 462.67,532.62 467.07,530.61 471.47,528.6 475.87,526.58 480.26,524.57 484.66,522.56 489.06,520.54 493.46,518.53 497.86,516.51 502.26,514.5 506.66,512.48 511.05,510.46 515.45,508.44 519.85,506.43 524.25,504.41 528.65,502.39 533.05,500.37 537.45,498.35 541.84,496.33 546.24,494.31 550.64,492.29 555.04,490.27 559.44,488.25 563.84,486.23 568.24,484.21 572.63,482.18 577.03,480.16 581.43,478.14 585.83,476.12 590.23,474.1 594.63,472.07 599.03,470.05 603.42,468.03 607.82,466 612.22,463.98 616.62,461.96 621.02,459.93 625.42,457.91 629.82,455.89 634.21,453.86 638.61,451.84 643.01,449.81 647.41,447.79 651.81,445.77 656.21,443.74 660.61,441.72 665,439.69 669.4,437.67 673.8,435.64 678.2,433.62" fill="none" stroke="#ff7f0e" stroke-width="2.7"/>
<polyline points="66.8,718.61 71.2,717.11 75.6,715.6 80,714.07 84.39,712.53 88.79,710.97 93.19,709.4 97.59,707.82 101.99,706.23 106.39,704.62 110.79,703.01 115.18,701.38 119.58,699.74 123.98,698.08 128.38,696.42 132.78,694.74 137.18,693.06 141.58,691.36 145.97,689.66 150.37,687.94 154.77,686.22 159.17,684.48 163.57,682.73 167.97,680.98 172.37,679.22 176.76,677.44 181.16,675.66 185.56,673.87 189.96,672.08 194.36,670.27 198.76,668.46 203.16,666.64 207.55,664.81 211.95,662.97 216.35,661.13 220.75,659.28 225.15,657.43 229.55,655.57 233.95,653.7 238.34,651.82 242.74,649.94 247.14,648.06 251.54,646.17 255.94,644.27 260.34,642.37 264.74,640.47 269.13,638.55 273.53,636.64 277.93,634.72 282.33,632.8 286.73,630.87 291.13,628.93 295.53,627 299.92,625.06 304.32,623.12 308.72,621.17 313.12,619.22 317.52,617.26 321.92,615.31 326.32,613.35 330.71,611.39 335.11,609.42 339.51,607.45 343.91,605.48 348.31,603.51 352.71,601.54 357.11,599.56 361.5,597.58 365.9,595.6 370.3,593.61 374.7,591.63 379.1,589.64 383.5,587.65 387.89,585.66 392.29,583.67 396.69,581.67 401.09,579.68 405.49,577.68 409.89,575.68 414.29,573.68 418.68,571.68 423.08,569.68 427.48,567.68 431.88,565.67 436.28,563.67 440.68,561.66 445.08,559.66 449.47,557.65 453.87,555.64 458.27,553.63 462.67,551.62 467.07,549.61 471.47,547.6 475.87,545.58 480.26,543.57 484.66,541.56 489.06,539.54 493.46,537.53 497.86,535.51 502.26,533.49 506.66,531.48 511.05,529.46 515.45,527.44 519.85,525.42 524.25,523.41 528.65,521.39 533.05,519.37 537.45,517.35 541.84,515.33 546.24,513.31 550.64,511.29 555.04,509.27 559.44,507.25 563.84,505.23 568.24,503.2 572.63,501.18 577.03,499.16 581.43,497.14 585.83,495.12 590.23,493.09 594.63,491.07 599.03,489.05 603.42,487.03 607.82,485 612.22,482.98 616.62,480.96 621.02,478.93 625.42,476.91 629.82,474.88 634.21,472.86 638.61,470.84 643.01,468.81 647.41,466.79 651.81,464.76 656.21,462.74 660.61,460.72 665,458.69 669.4,456.67 673.8,454.64 678.2,452.62" fill="none" stroke="#000" stroke-width="2.9"/>
<line x1="425.7" x2="425.7" y1="377.5" y2="718.3" stroke="#d62728" stroke-width="3.6"/>
<rect x="420.5" y="510.3" width="10.4" height="45.7" fill="#d62728"/>
</g>
<text x="431" y="403.8" font-size="11.5" fill="#d62728">8</text>
<text x="437.25" y="409.5" font-size="16.5" fill="#d62728" >Be</text>
<text x="277.37" y="661.6" font-size="16.2" fill="#00bfff" >NA64</text>
<text x="280.57" y="702.3" font-size="16.2" fill="#5f9ea0" >E141</text>
<text x="587.27" y="555.6" font-size="16.2" fill="#ba55d3" >BaBar</text>
<text transform="translate(211.6,601.8) rotate(-24.1)" font-size="16.5" fill="#800080"><tspan>g</tspan><tspan font-size="10.39" dy="4.46">e</tspan><tspan dy="-4.46"> − 2 LKB 2020</tspan></text>
<text transform="translate(192.6,643.5) rotate(-22.8)" font-size="16.5" fill="#ff7f0e"><tspan>g</tspan><tspan font-size="10.39" dy="4.46">e</tspan><tspan dy="-4.46"> −2 Berkeley 2018</tspan></text>
<text transform="translate(407,598.3) rotate(-24.6)" font-size="16.2" fill="#000"><tspan>g</tspan><tspan font-size="10.21" dy="4.37">e</tspan><tspan dy="-4.37"> − 2 LKB 2020 (favoured)</tspan></text>
<rect x="487.9" y="693.0" width="41.1" height="8.0" fill="#d62728"/>
<text x="539.76" y="705" font-size="19.0" fill="#000" >Allowed range</text>
<rect x="69.8" y="377.5" width="605.4" height="340.8" fill="none" stroke="#000" stroke-width="1.5"/>
<line x1="64.8" x2="69.8" y1="377.6" y2="377.6" stroke="#000" stroke-width="1.3"/>
<line x1="64.8" x2="69.8" y1="525.45" y2="525.45" stroke="#000" stroke-width="1.3"/>
<line x1="64.8" x2="69.8" y1="673.3" y2="673.3" stroke="#000" stroke-width="1.3"/>
<line x1="66.8" x2="69.8" y1="717.81" y2="717.81" stroke="#000" stroke-width="1.1"/>
<line x1="66.8" x2="69.8" y1="706.1" y2="706.1" stroke="#000" stroke-width="1.1"/>
<line x1="66.8" x2="69.8" y1="696.2" y2="696.2" stroke="#000" stroke-width="1.1"/>
<line x1="66.8" x2="69.8" y1="687.63" y2="687.63" stroke="#000" stroke-width="1.1"/>
<line x1="66.8" x2="69.8" y1="680.07" y2="680.07" stroke="#000" stroke-width="1.1"/>
<line x1="66.8" x2="69.8" y1="628.79" y2="628.79" stroke="#000" stroke-width="1.1"/>
<line x1="66.8" x2="69.8" y1="602.76" y2="602.76" stroke="#000" stroke-width="1.1"/>
<line x1="66.8" x2="69.8" y1="584.29" y2="584.29" stroke="#000" stroke-width="1.1"/>
<line x1="66.8" x2="69.8" y1="569.96" y2="569.96" stroke="#000" stroke-width="1.1"/>
<line x1="66.8" x2="69.8" y1="558.25" y2="558.25" stroke="#000" stroke-width="1.1"/>
<line x1="66.8" x2="69.8" y1="548.35" y2="548.35" stroke="#000" stroke-width="1.1"/>
<line x1="66.8" x2="69.8" y1="539.78" y2="539.78" stroke="#000" stroke-width="1.1"/>
<line x1="66.8" x2="69.8" y1="532.22" y2="532.22" stroke="#000" stroke-width="1.1"/>
<line x1="66.8" x2="69.8" y1="480.94" y2="480.94" stroke="#000" stroke-width="1.1"/>
<line x1="66.8" x2="69.8" y1="454.91" y2="454.91" stroke="#000" stroke-width="1.1"/>
<line x1="66.8" x2="69.8" y1="436.44" y2="436.44" stroke="#000" stroke-width="1.1"/>
<line x1="66.8" x2="69.8" y1="422.11" y2="422.11" stroke="#000" stroke-width="1.1"/>
<line x1="66.8" x2="69.8" y1="410.4" y2="410.4" stroke="#000" stroke-width="1.1"/>
<line x1="66.8" x2="69.8" y1="400.5" y2="400.5" stroke="#000" stroke-width="1.1"/>
<line x1="66.8" x2="69.8" y1="391.93" y2="391.93" stroke="#000" stroke-width="1.1"/>
<line x1="66.8" x2="69.8" y1="384.37" y2="384.37" stroke="#000" stroke-width="1.1"/>
<line x1="354.2" x2="354.2" y1="718.3" y2="723.3" stroke="#000" stroke-width="1.3"/>
<line x1="675.2" x2="675.2" y1="718.3" y2="723.3" stroke="#000" stroke-width="1.3"/>
<line x1="129.83" x2="129.83" y1="718.3" y2="721.3" stroke="#000" stroke-width="1.1"/>
<line x1="186.36" x2="186.36" y1="718.3" y2="721.3" stroke="#000" stroke-width="1.1"/>
<line x1="226.46" x2="226.46" y1="718.3" y2="721.3" stroke="#000" stroke-width="1.1"/>
<line x1="257.57" x2="257.57" y1="718.3" y2="721.3" stroke="#000" stroke-width="1.1"/>
<line x1="282.99" x2="282.99" y1="718.3" y2="721.3" stroke="#000" stroke-width="1.1"/>
<line x1="304.48" x2="304.48" y1="718.3" y2="721.3" stroke="#000" stroke-width="1.1"/>
<line x1="323.09" x2="323.09" y1="718.3" y2="721.3" stroke="#000" stroke-width="1.1"/>
<line x1="339.51" x2="339.51" y1="718.3" y2="721.3" stroke="#000" stroke-width="1.1"/>
<line x1="450.83" x2="450.83" y1="718.3" y2="721.3" stroke="#000" stroke-width="1.1"/>
<line x1="507.36" x2="507.36" y1="718.3" y2="721.3" stroke="#000" stroke-width="1.1"/>
<line x1="547.46" x2="547.46" y1="718.3" y2="721.3" stroke="#000" stroke-width="1.1"/>
<line x1="578.57" x2="578.57" y1="718.3" y2="721.3" stroke="#000" stroke-width="1.1"/>
<line x1="603.99" x2="603.99" y1="718.3" y2="721.3" stroke="#000" stroke-width="1.1"/>
<line x1="625.48" x2="625.48" y1="718.3" y2="721.3" stroke="#000" stroke-width="1.1"/>
<line x1="644.09" x2="644.09" y1="718.3" y2="721.3" stroke="#000" stroke-width="1.1"/>
<line x1="660.51" x2="660.51" y1="718.3" y2="721.3" stroke="#000" stroke-width="1.1"/>
<text x="25.5" y="384.6" font-size="18.2">10<tspan font-size="12.7" dy="-6">−2</tspan></text>
<text x="25.5" y="532.6" font-size="18.2">10<tspan font-size="12.7" dy="-6">−3</tspan></text>
<text x="25.5" y="680.4" font-size="18.2">10<tspan font-size="12.7" dy="-6">−4</tspan></text>
<text x="336.7" y="747" font-size="18.2">10<tspan font-size="12.7" dy="-6">1</tspan></text>
<text x="657.7" y="747" font-size="18.2">10<tspan font-size="12.7" dy="-6">2</tspan></text>
<text x="319.5" y="772" font-size="18.5"><tspan font-style="italic">m</tspan> (MeV)</text>
<text transform="translate(10.1,535.8) rotate(-90)" font-size="17.3" font-style="italic" font-family="Liberation Serif">ε</text>
<text x="0.1" y="383.1" font-size="20" font-weight="bold" stroke="#000" stroke-width="0.8">b</text>
</svg>
</body></html>
